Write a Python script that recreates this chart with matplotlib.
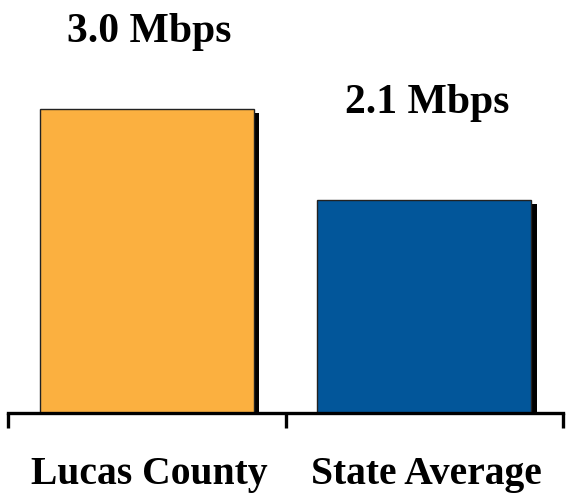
import matplotlib.pyplot as plt
import matplotlib.patheffects as pe

categories = ["Lucas County", "State Average"]
speeds = [3.0, 2.1]
value_labels = ["3.0 Mbps", "2.1 Mbps"]
colors = ["#FBB040", "#02569A"]

plt.rcParams['font.family'] = ['Liberation Serif', 'DejaVu Serif']

fig = plt.figure(figsize=(5.69, 4.93), dpi=100)
# axes spans from x-axis line (y=413px) up to the top of the figure
ax = fig.add_axes([8/569, 80/493, 555/569, 413/493])

x = range(len(categories))
bars = ax.bar(x, speeds, width=0.77, color=colors, edgecolor="#222222",
              linewidth=1.0, zorder=3)
for b in bars:
    b.set_path_effects([pe.SimplePatchShadow(offset=(4.2, -3), shadow_rgbFace="black",
                                             alpha=1.0), pe.Normal()])

# label baselines above each bar (in data units)
label_offsets = [0.66, 0.86]
for i, (v, lab) in enumerate(zip(speeds, value_labels)):
    ax.text(i + 0.01, v + label_offsets[i], lab, ha="center", va="baseline",
            fontsize=30, fontweight="bold", clip_on=False)

# category names below the axis
for i, c in enumerate(categories):
    ax.annotate(c, xy=(i, 0), xytext=(1.5, -51), textcoords="offset points",
                ha="center", va="baseline", fontsize=28.5, fontweight="bold",
                annotation_clip=False)

ax.set_xlim(-0.5, 1.5)
ax.set_ylim(0, 4.07)

for s in ["left", "right", "top"]:
    ax.spines[s].set_visible(False)
ax.spines["bottom"].set_linewidth(2.4)
ax.spines["bottom"].set_zorder(5)

ax.set_yticks([])
ax.set_xticks([-0.5, 0.5, 1.5])
ax.set_xticklabels([])
ax.tick_params(axis="x", direction="out", length=10.5, width=2.4)

fig.savefig("out.png", dpi=100)
